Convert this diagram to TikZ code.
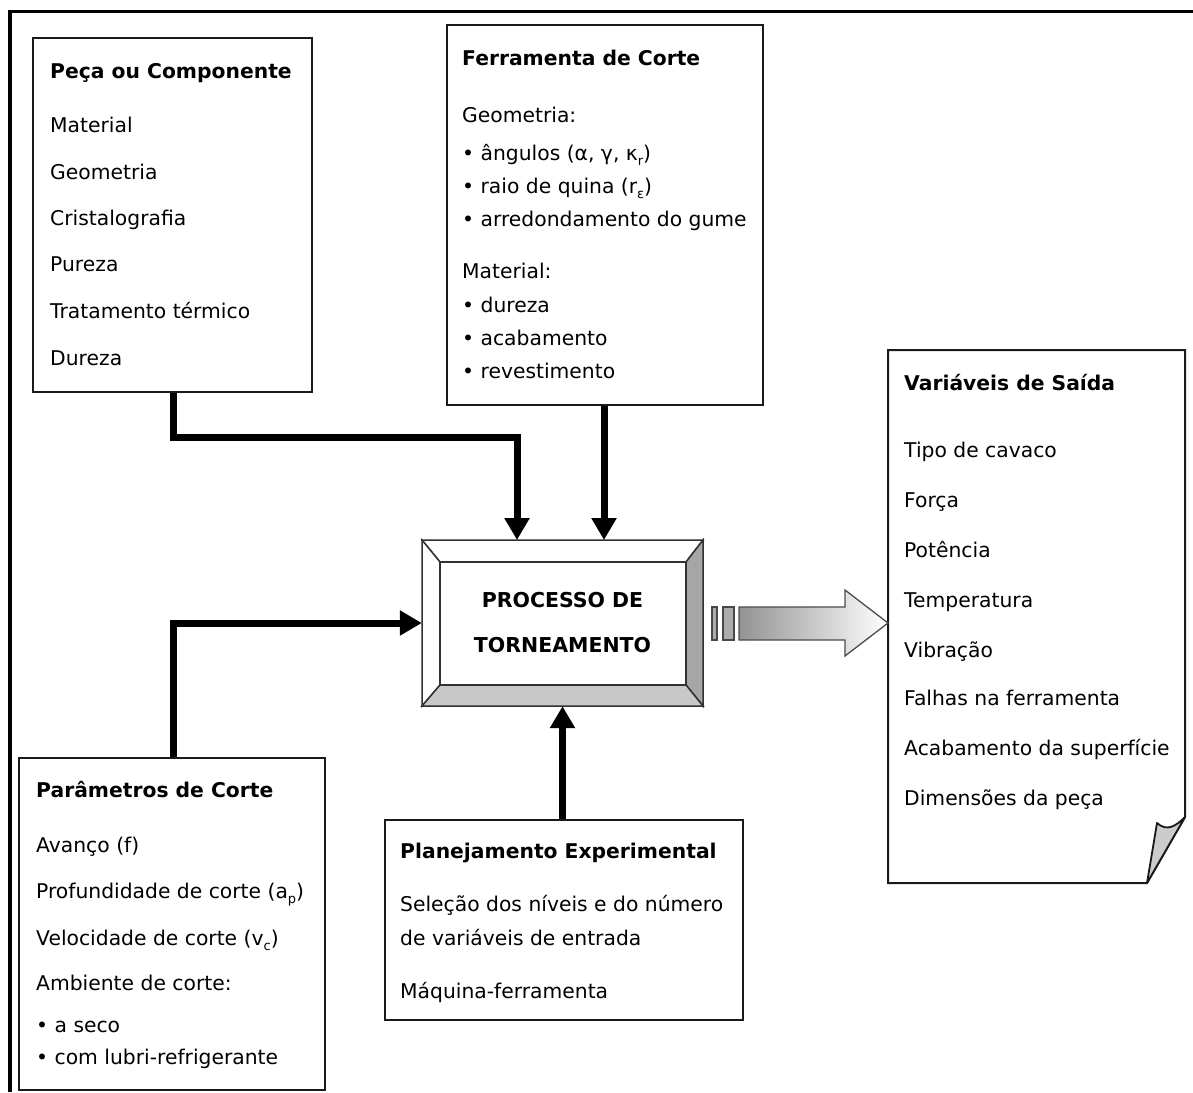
\documentclass[tikz,border=0pt]{standalone}
\usepackage{fontspec}
\setmainfont{DejaVu Sans}
\usetikzlibrary{arrows.meta,calc}
\newcommand\myfs{\fontsize{20.3}{24}\selectfont}
\newcommand\mysub[1]{\raisebox{-5pt}{\fontsize{13}{13}\selectfont #1}}
\definecolor{edge}{HTML}{1A1A1A}
\definecolor{bevR}{HTML}{A6A6A6}
\definecolor{bevB}{HTML}{C8C8C8}
\begin{document}
\begin{tikzpicture}[x=1pt,y=-1pt,
  box/.style={draw=edge, line width=2pt, fill=white, inner sep=0pt},
  txt/.style={anchor=west, inner sep=0pt, text height=15pt, text depth=4pt, font=\myfs},
  ttl/.style={txt, font=\myfs\bfseries},
  flow/.style={line width=7pt, draw=black, -{Triangle[length=22pt,width=24pt]}},
  bevel/.style={draw=edge!90, line width=1.5pt, line join=miter}]
\useasboundingbox (0,0) rectangle (1193,1092);
\fill[white] (0,0) rectangle (1193,1092);
% outer frame (only top and left visible)
\draw[line width=3.5pt] (10,1092) -- (10,11.5) -- (1193,11.5);

% ---------- boxes ----------
\node[box, minimum width=279pt, minimum height=354pt] (peca) at (172.5,215) {};
\node[box, minimum width=316pt, minimum height=380pt] (ferr) at (605,215) {};
\node[box, minimum width=306pt, minimum height=332pt] (param) at (172,924) {};
\node[box, minimum width=358pt, minimum height=200pt] (plan) at (564,920) {};

% ---------- process box with bevel ----------
\node[minimum width=281pt, minimum height=166pt, inner sep=0pt] (proc) at (562.5,623) {};
\filldraw[bevel, fill=white] (422,540) -- (703,540) -- (686,562) -- (440,562) -- cycle;
\filldraw[bevel, fill=white] (422,540) -- (440,562) -- (440,685) -- (422,706) -- cycle;
\filldraw[bevel, fill=bevR] (703,540) -- (703,706) -- (686,685) -- (686,562) -- cycle;
\filldraw[bevel, fill=bevB] (422,706) -- (703,706) -- (686,685) -- (440,685) -- cycle;
\draw[bevel] (440,562) rectangle (686,685);
\node[font=\fontsize{20.5}{45}\selectfont\bfseries, align=center, inner sep=0pt] (proctext) at (proc.center) {PROCESSO DE\\TORNEAMENTO};

% ---------- output document ----------
\filldraw[draw=edge, line width=2pt, fill=white, line join=miter]
  (888,350) -- (1185,350) -- (1185,817) -- (1147,883) -- (888,883) -- cycle;
\filldraw[draw=edge, line width=1.8pt, fill=gray!40, line join=round]
  (1157,823) .. controls (1167,832) and (1176,826) .. (1185,817) -- (1147,883) -- cycle;
\coordinate (docin) at (888,623);

% ---------- output arrow ----------
\filldraw[draw=edge!80, line width=1.3pt, fill=gray!65] (712,607) rectangle (717,640);
\filldraw[draw=edge!80, line width=1.3pt, fill=gray!65] (723,607) rectangle (734,640);
\shade[left color=gray!85, right color=white, draw=gray!60!black, line width=1.3pt]
  (739,607) -- (845,607) -- (845,590) -- (docin) -- (845,656) -- (845,640) -- (739,640) -- cycle;

% ---------- connectors ----------
\coordinate (a1) at (173,437);
\coordinate (p1) at (517,540);
\coordinate (p2) at (604,540);
\draw[flow] (peca.south -| a1) -- (a1) -| (p1);
\draw[flow] (ferr.south -| p2) -- (p2);
\draw[flow] (param.north -| a1) |- (proc.west);
\draw[flow] (plan.north -| proc.south) -- (proc.south);

% ---------- texts: Peca ----------
\node[ttl] (pc0) at (50,73) {Peça ou Componente};
\node[txt] (pc1) at (50,127) {Material};
\node[txt] (pc2) at (50,174) {Geometria};
\node[txt] (pc3) at (50,220) {Cristalografia};
\node[txt] (pc4) at (50,266) {Pureza};
\node[txt] (pc5) at (50,313) {Tratamento térmico};
\node[txt] (pc6) at (50,360) {Dureza};

% ---------- texts: Ferramenta ----------
\node[ttl] (fc0) at (462,60) {Ferramenta de Corte};
\node[txt] (fc1) at (462,117) {Geometria:};
\node[txt] (fc2) at (462,155) {• ângulos (α, γ, κ\mysub{r})};
\node[txt] (fc3) at (462,188) {• raio de quina (r\mysub{ε})};
\node[txt] (fc4) at (462,221) {• arredondamento do gume};
\node[txt] (fc5) at (462,273) {Material:};
\node[txt] (fc6) at (462,307) {• dureza};
\node[txt] (fc7) at (462,340) {• acabamento};
\node[txt] (fc8) at (462,373) {• revestimento};

% ---------- texts: Variaveis ----------
\node[ttl] (vs0) at (904,385) {Variáveis de Saída};
\node[txt] (vs1) at (904,452) {Tipo de cavaco};
\node[txt] (vs2) at (904,502) {Força};
\node[txt] (vs3) at (904,552) {Potência};
\node[txt] (vs4) at (904,602) {Temperatura};
\node[txt] (vs5) at (904,652) {Vibração};
\node[txt] (vs6) at (904,700) {Falhas na ferramenta};
\node[txt] (vs7) at (904,750) {Acabamento da superfície};
\node[txt] (vs8) at (904,800) {Dimensões da peça};

% ---------- texts: Parametros ----------
\node[ttl] (pm0) at (36,792) {Parâmetros de Corte};
\node[txt] (pm1) at (36,847) {Avanço (f)};
\node[txt] (pm2) at (36,893) {Profundidade de corte (a\mysub{p})};
\node[txt] (pm3) at (36,940) {Velocidade de corte (v\mysub{c})};
\node[txt] (pm4) at (36,985) {Ambiente de corte:};
\node[txt] (pm5) at (36,1027) {• a seco};
\node[txt] (pm6) at (36,1059) {• com lubri-refrigerante};

% ---------- texts: Planejamento ----------
\node[ttl] (pl0) at (400,853) {Planejamento Experimental};
\node[txt] (pl1) at (400,906) {Seleção dos níveis e do número};
\node[txt] (pl2) at (400,940) {de variáveis de entrada};
\node[txt] (pl3) at (400,993) {Máquina-ferramenta};
\end{tikzpicture}
\end{document}
